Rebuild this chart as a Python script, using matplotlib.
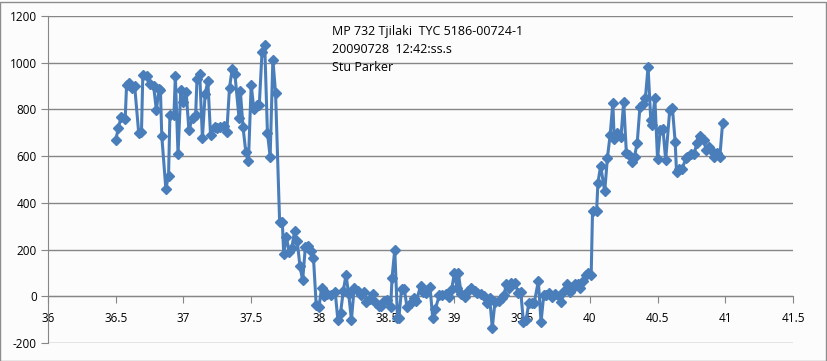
import matplotlib
matplotlib.use("Agg")
import matplotlib.pyplot as plt
from matplotlib.patches import Rectangle

time_min = [36.50, 36.52, 36.54, 36.57, 36.58, 36.60, 36.62, 36.64, 36.67, 36.69,
            36.70, 36.73, 36.75, 36.78, 36.80, 36.82, 36.83, 36.84, 36.87, 36.89,
            36.90, 36.93, 36.94, 36.96, 36.98, 37.00, 37.02, 37.04, 37.07, 37.09,
            37.10, 37.12, 37.14, 37.16, 37.18, 37.20, 37.23, 37.25, 37.27, 37.30,
            37.32, 37.34, 37.36, 37.38, 37.41, 37.42, 37.44, 37.46, 37.48, 37.50,
            37.52, 37.54, 37.56, 37.58, 37.60, 37.62, 37.64, 37.66, 37.68, 37.71,
            37.73, 37.74, 37.76, 37.78, 37.80, 37.82, 37.84, 37.86, 37.88, 37.90,
            37.92, 37.94, 37.96, 37.98, 38.00, 38.02, 38.04, 38.06, 38.09, 38.12,
            38.14, 38.16, 38.18, 38.20, 38.22, 38.24, 38.26, 38.29, 38.31, 38.33,
            38.35, 38.38, 38.40, 38.42, 38.44, 38.46, 38.48, 38.50, 38.53, 38.54,
            38.56, 38.58, 38.59, 38.61, 38.63, 38.65, 38.68, 38.70, 38.72, 38.75,
            38.77, 38.79, 38.82, 38.84, 38.86, 38.89, 38.91, 38.94, 38.96, 38.98,
            39.00, 39.02, 39.03, 39.05, 39.08, 39.10, 39.12, 39.15, 39.17, 39.20,
            39.22, 39.24, 39.26, 39.28, 39.30, 39.33, 39.35, 39.37, 39.38, 39.40,
            39.42, 39.45, 39.47, 39.49, 39.51, 39.53, 39.55, 39.57, 39.59, 39.62,
            39.64, 39.66, 39.68, 39.70, 39.72, 39.74, 39.77, 39.79, 39.81, 39.83,
            39.85, 39.87, 39.89, 39.91, 39.93, 39.95, 39.97, 39.99, 40.01, 40.02,
            40.05, 40.06, 40.08, 40.11, 40.13, 40.15, 40.17, 40.18, 40.20, 40.23,
            40.25, 40.27, 40.29, 40.31, 40.33, 40.35, 40.37, 40.39, 40.41, 40.43,
            40.45, 40.46, 40.48, 40.50, 40.52, 40.54, 40.56, 40.59, 40.61, 40.63,
            40.64, 40.66, 40.68, 40.71, 40.72, 40.75, 40.77, 40.79, 40.81, 40.82,
            40.84, 40.86, 40.88, 40.90, 40.92, 40.94, 40.96, 40.98]

intensity = [669, 722, 768, 761, 903, 915, 893, 899, 697, 703,
             946, 942, 910, 899, 797, 889, 882, 686, 460, 517,
             778, 778, 942, 609, 882, 832, 873, 714, 765, 776,
             932, 950, 679, 865, 922, 690, 723, 719, 723, 729,
             705, 893, 974, 950, 765, 879, 723, 619, 581, 906,
             800, 821, 821, 1045, 1074, 700, 598, 1013, 871, 317,
             317, 183, 254, 190, 207, 278, 236, 129, 68, 212,
             214, 196, 163, -38, -48, 37, 1, 11, 6, 20,
             -102, -70, 23, 91, 9, -101, 34, 23, 4, 20,
             -23, -13, 11, -27, -41, -41, -20, -16, -44, 80,
             200, -91, -94, 30, 30, -44, -30, -6, -20, 44,
             20, 16, 41, -91, -53, 6, 6, 11, -3, 30,
             98, 37, 98, 11, -3, 21, 37, 23, 16, 9,
             1, -30, -6, -134, -24, -20, -6, 6, 51, 34,
             58, 55, 16, 18, -109, -101, -27, -30, -27, 65,
             -109, 6, 4, 13, -3, 9, 1, -23, 23, 51,
             20, 33, 51, 51, 37, 65, 89, 101, 89, 364,
             364, 487, 558, 449, 594, 690, 828, 672, 697, 683,
             832, 612, 605, 577, 598, 658, 811, 825, 847, 982,
             754, 733, 849, 588, 713, 716, 584, 797, 804, 662,
             534, 544, 544, 591, 598, 609, 609, 655, 686, 676,
             669, 626, 641, 624, 598, 615, 598, 740]

x_ticks = [36, 36.5, 37, 37.5, 38, 38.5, 39, 39.5, 40, 40.5, 41, 41.5]
x_tick_labels = ["36", "36.5", "37", "37.5", "38", "38.5", "39", "39.5", "40", "40.5", "41", "41.5"]
y_ticks = [-200, 0, 200, 400, 600, 800, 1000, 1200]
annotation_lines = ["MP 732 Tjilaki  TYC 5186-00724-1", "20090728  12:42:ss.s", "Stu Parker"]

W, H = 828, 361
fig = plt.figure(figsize=(W / 100, H / 100), dpi=100)
fig.patch.set_facecolor("#fcfcfc")
fig.patches.append(Rectangle((0.5 / W, 0.5 / H), 1 - 2 / W, 1 - 2 / H, transform=fig.transFigure,
                             fill=False, edgecolor="#8c8c8c", linewidth=1.0))

ax = fig.add_axes([48 / W, 1 - 343 / H, (793 - 48) / W, (343 - 16) / H])
ax.set_facecolor("#fcfcfc")
ax.set_xlim(36, 41.5)
ax.set_ylim(-200, 1200)
ax.set_yticks(y_ticks)
ax.set_yticklabels([str(v) for v in y_ticks])
ax.set_xticks(x_ticks)
ax.set_xticklabels(x_tick_labels)

for v in y_ticks:
    ax.axhline(v, color="#868686", linewidth=1.0, zorder=1)

ax.plot(time_min, intensity, color="#4a7ebb", linewidth=2.2, marker="D", markersize=5,
        markerfacecolor="#4a7ebb", markeredgecolor="#4a7ebb", zorder=3)

for s in ["top", "right"]:
    ax.spines[s].set_visible(False)
ax.spines["bottom"].set_position(("data", 0))
ax.spines["bottom"].set_color("#868686")
ax.spines["left"].set_color("#868686")
ax.tick_params(axis="x", direction="out", length=5, color="#868686", labelsize=8.5, pad=6)
ax.tick_params(axis="y", direction="out", length=5, color="#868686", labelsize=8.5, pad=3)
for lab in ax.get_xticklabels() + ax.get_yticklabels():
    lab.set_fontfamily("Open Sans")
    lab.set_color("#000000")

for i, line in enumerate(annotation_lines):
    ax.text(36 + (332 - 48) / 135.45, 1135 - i * 77, line, fontsize=9, family="Open Sans",
            va="center", ha="left", color="#000000")

fig.savefig("out.png", dpi=100, facecolor=fig.get_facecolor())
